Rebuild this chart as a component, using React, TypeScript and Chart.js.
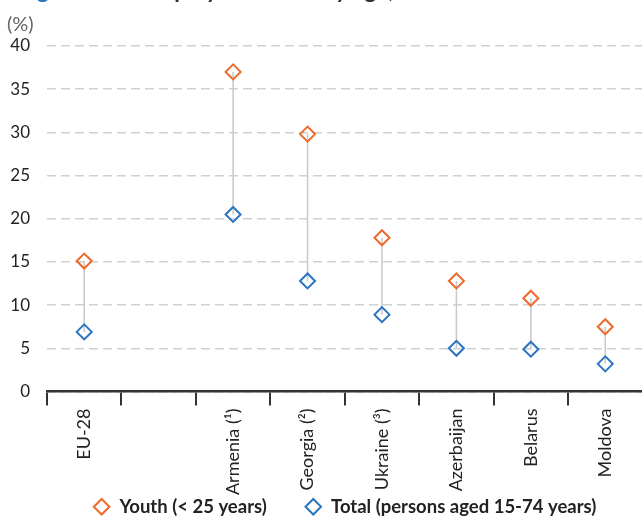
import React, { useEffect, useRef } from "react";
import { Chart, registerables } from "chart.js";

Chart.register(...registerables);

const categories = ["EU-28", "", "Armenia (¹)", "Georgia (²)", "Ukraine (³)", "Azerbaijan", "Belarus", "Moldova"];
const youthValues: (number | null)[] = [15.1, null, 37.0, 29.8, 17.8, 12.8, 10.8, 7.5];
const totalValues: (number | null)[] = [6.9, null, 20.5, 12.8, 8.9, 5.0, 4.9, 3.2];
const seriesNames = ["Youth (< 25 years)", "Total (persons aged 15-74 years)"];
const yMin = 0;
const yMax = 40;
const yStep = 5;

const ORANGE = "#EE6A2B";
const BLUE = "#2B74C0";
const FONT = 'Lato, "Open Sans", sans-serif';

const connectorPlugin = {
  id: "connectors",
  beforeDatasetsDraw(chart: any) {
    const { ctx } = chart;
    const a = chart.getDatasetMeta(0).data;
    const b = chart.getDatasetMeta(1).data;
    ctx.save();
    ctx.strokeStyle = "#c8c8c8";
    ctx.lineWidth = 1.5;
    for (let i = 0; i < a.length; i++) {
      if (youthValues[i] == null || totalValues[i] == null) continue;
      ctx.beginPath();
      ctx.moveTo(a[i].x, a[i].y);
      ctx.lineTo(b[i].x, b[i].y);
      ctx.stroke();
    }
    ctx.restore();
  },
};

export default function App() {
  const ref = useRef<HTMLCanvasElement>(null);
  useEffect(() => {
    if (!ref.current) return;
    Chart.defaults.font.family = FONT;
    const chart = new Chart(ref.current, {
      type: "line",
      data: {
        labels: categories,
        datasets: [
          {
            label: seriesNames[0],
            data: youthValues,
            showLine: false,
            borderColor: ORANGE,
            backgroundColor: "rgba(0,0,0,0)",
            pointStyle: "rectRot",
            pointRadius: 7.5,
            pointBorderWidth: 2,
            pointBorderColor: ORANGE,
            pointBackgroundColor: "rgba(0,0,0,0)",
          },
          {
            label: seriesNames[1],
            data: totalValues,
            showLine: false,
            borderColor: BLUE,
            backgroundColor: "rgba(0,0,0,0)",
            pointStyle: "rectRot",
            pointRadius: 7.5,
            pointBorderWidth: 2,
            pointBorderColor: BLUE,
            pointBackgroundColor: "rgba(0,0,0,0)",
          },
        ],
      },
      options: {
        responsive: false,
        animation: false,
        layout: { padding: { top: 46, left: 0, right: 0, bottom: -7 } },
        plugins: {
          tooltip: { enabled: false },
          legend: {
            position: "bottom",
            fullSize: false,
            labels: {
              usePointStyle: true,
              boxWidth: 17,
              boxHeight: 11,
              padding: 2,
              color: "#222",
              font: { size: 18.5, weight: "bold", family: FONT },
              generateLabels: () =>
                seriesNames.map((n, i) => ({
                  text: i === 0 ? n + "        " : n,
                  fillStyle: "rgba(0,0,0,0)",
                  strokeStyle: i === 0 ? ORANGE : BLUE,
                  lineWidth: 2,
                  pointStyle: "rectRot",
                  hidden: false,
                  datasetIndex: i,
                  fontColor: "#222",
                })),
            },
          },
        },
        scales: {
          x: {
            offset: true,
            grid: {
              offset: true,
              drawOnChartArea: false,
              drawTicks: true,
              tickLength: 14,
              color: "#333",
              lineWidth: 2,
            },
            border: { display: true, color: "#333", width: 2.5 },
            ticks: {
              autoSkip: false,
              minRotation: 90,
              maxRotation: 90,
              padding: 3,
              color: "#222",
              font: { size: 18, family: FONT },
            },
            afterFit: (s: any) => {
              s.height = 104;
            },
          },
          y: {
            min: yMin,
            max: yMax,
            ticks: {
              stepSize: yStep,
              padding: 17,
              color: "#222",
              font: { size: 17, family: FONT },
            },
            grid: { color: "#d0d0d0", lineWidth: 1.5, drawTicks: false },
            border: { display: false, dash: [9, 5] },
            afterFit: (s: any) => {
              s.width = 47;
            },
          },
        },
      },
      plugins: [connectorPlugin],
    });
    return () => chart.destroy();
  }, []);

  return (
    <div style={{ position: "absolute", left: 0, top: 0, width: 642, height: 519, overflow: "hidden", background: "#fff" }}>
      <div
        style={{
          position: "absolute",
          left: 18,
          top: -24,
          fontFamily: FONT,
          fontWeight: "bold",
          fontSize: 23,
          lineHeight: "26px",
          whiteSpace: "nowrap",
          color: "#333",
        }}
      >
        <span style={{ color: BLUE }}>Figure 3:</span> Unemployment rate by age, 2018
      </div>
      <div
        style={{
          position: "absolute",
          left: 7,
          top: 10,
          fontFamily: FONT,
          fontSize: 20,
          lineHeight: "26px",
          color: "#666",
        }}
      >
        (%)
      </div>
      <canvas ref={ref} width={652} height={519} style={{ display: "block" }} />
    </div>
  );
}
